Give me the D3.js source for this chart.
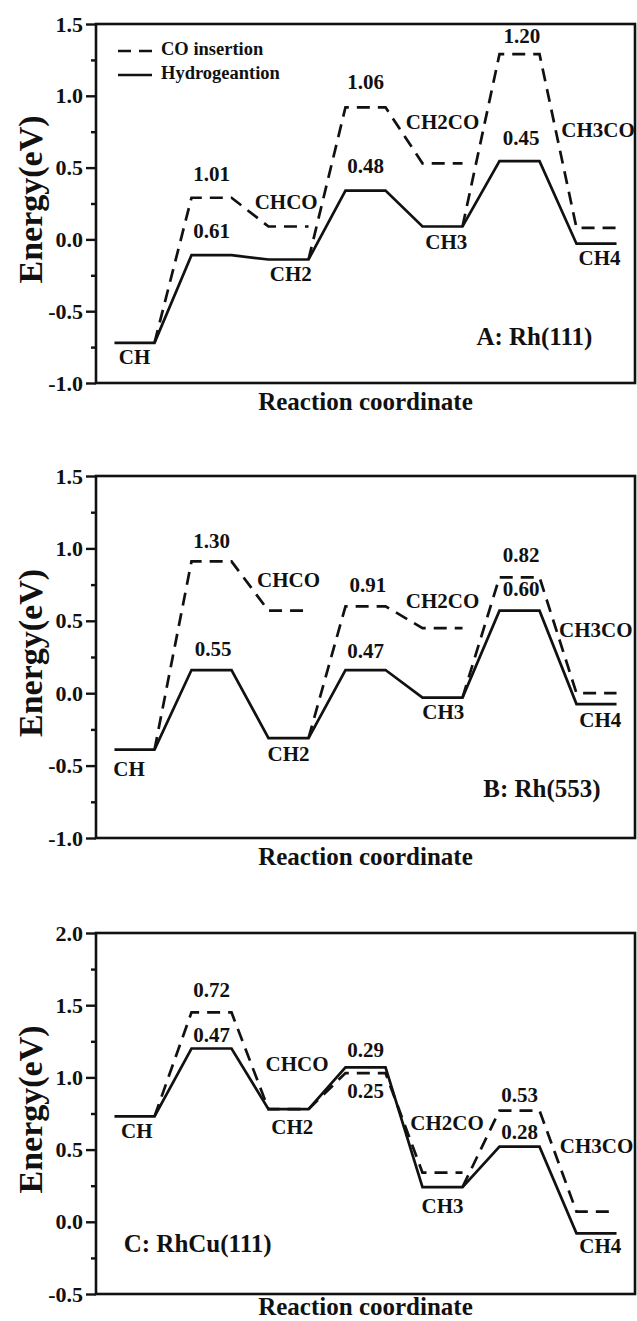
<!DOCTYPE html>
<html>
<head>
<meta charset="utf-8">
<script src="https://cdn.jsdelivr.net/npm/d3@7"></script>
<style>
  html, body { margin: 0; padding: 0; background: #fff; }
  svg { display: block; }
  text { font-family: "Liberation Serif", "Times New Roman", serif; font-weight: bold; fill: #111; }
</style>
</head>
<body>
<svg id="chart"></svg>
<script>
// states along the reaction coordinate (minima and transition states)
const states = ["CH", "TS1", "CH2", "TS2", "CH3", "TS3", "CH4"];

// A: Rh(111)
const hydroA = [-0.72, -0.11, -0.14, 0.34, 0.09, 0.545, -0.03];
const coTsA = [0.29, 0.92, 1.29];
const coFsA = [0.09, 0.53, 0.08];
const ticksA = [-1.0, -0.5, 0.0, 0.5, 1.0, 1.5];
// [text, state, energy of baseline]
const labelsA = [
    ["1.01", 1, 0.405], ["0.61", 1, 0.007], ["CHCO", 1.97, 0.215],
    ["1.06", 3, 1.049], ["0.48", 3, 0.462], ["CH2CO", 4, 0.771],
    ["1.20", 5.03, 1.366], ["0.45", 5.02, 0.66], ["CH3CO", 6.02, 0.713],
    ["CH", 0, -0.866], ["CH2", 2.03, -0.29], ["CH3", 4.05, -0.067], ["CH4", 6.04, -0.18]
];

// B: Rh(553)
const hydroB = [-0.39, 0.16, -0.31, 0.16, -0.03, 0.57, -0.075];
const coTsB = [0.91, 0.60, 0.80];
const coFsB = [0.57, 0.45, 0.0];
const ticksB = [-1.0, -0.5, 0.0, 0.5, 1.0, 1.5];
const labelsB = [
    ["1.30", 1, 1.0], ["0.55", 1.02, 0.254], ["CHCO", 2.0, 0.734],
    ["0.91", 3.03, 0.70], ["0.47", 3.0, 0.242], ["CH2CO", 4, 0.591],
    ["0.82", 5.02, 0.908], ["0.60", 5.02, 0.672], ["CH3CO", 5.99, 0.388],
    ["CH", -0.07, -0.57], ["CH2", 2.0, -0.467], ["CH3", 4.01, -0.178], ["CH4", 6.05, -0.231]
];

// C: RhCu(111)
const hydroC = [0.73, 1.20, 0.78, 1.07, 0.24, 0.52, -0.08];
const coTsC = [1.45, 1.03, 0.77];
const coFsC = [0.78, 0.34, 0.07];
const ticksC = [-0.5, 0.0, 0.5, 1.0, 1.5, 2.0];
const labelsC = [
    ["0.72", 1, 1.56], ["0.47", 1, 1.248], ["CHCO", 2.11, 1.046],
    ["0.29", 3, 1.144], ["0.25", 3, 0.856], ["CH2CO", 4.06, 0.634],
    ["0.53", 5, 0.833], ["0.28", 5, 0.576], ["CH3CO", 6.0, 0.479],
    ["CH", 0.03, 0.583], ["CH2", 2.05, 0.606], ["CH3", 4.0, 0.0625], ["CH4", 6.05, -0.215]
];

const panelNames = ["A: Rh(111)", "B: Rh(553)", "C: RhCu(111)"];
const legendNames = ["CO insertion", "Hydrogeantion"];

// panel name anchor [state, energy] (left aligned)
const nameAnchors = [[4.44, -0.734], [4.53, -0.72], [-0.14, -0.208]];

const panels = [
    { hydro: hydroA, coTs: coTsA, coFs: coFsA, ticks: ticksA, labels: labelsA, top: 24, bottom: 383 },
    { hydro: hydroB, coTs: coTsB, coFs: coFsB, ticks: ticksB, labels: labelsB, top: 476, bottom: 838 },
    { hydro: hydroC, coTs: coTsC, coFs: coFsC, ticks: ticksC, labels: labelsC, top: 933, bottom: 1294 }
];

const W = 637, H = 1321;
const left = 96, right = 635;
const hw = 0.26;          // half width of an energy level (in state units)
const ink = "#111";

const svg = d3.select("#chart").attr("width", W).attr("height", H);
svg.append("rect").attr("width", W).attr("height", H).attr("fill", "#fff");

const x = d3.scaleLinear().domain([-0.5, states.length - 0.5]).range([left, right]);

panels.forEach((p, pi) => {
    const y = d3.scaleLinear().domain(d3.extent(p.ticks)).range([p.bottom, p.top]);
    const g = svg.append("g");

    const line = d3.line().x(d => x(d[0])).y(d => y(d[1]));

    // hydrogenation path: flat levels joined by slopes
    const solidPts = [];
    p.hydro.forEach((v, i) => { solidPts.push([i - hw, v], [i + hw, v]); });
    g.append("path")
        .attr("d", line(solidPts))
        .attr("fill", "none")
        .attr("stroke", ink)
        .attr("stroke-width", 2.7)
        .attr("stroke-linejoin", "miter");

    // CO insertion branches, each starting from a CHx level
    p.coTs.forEach((ts, k) => {
        const s = 2 * k;
        const pts = [
            [s + hw, p.hydro[s]],
            [s + 1 - hw, ts], [s + 1 + hw, ts],
            [s + 2 - hw, p.coFs[k]], [s + 2 + hw, p.coFs[k]]
        ];
        g.append("path")
            .attr("d", line(pts))
            .attr("fill", "none")
            .attr("stroke", ink)
            .attr("stroke-width", 2.7)
            .attr("stroke-dasharray", "13,8");
    });

    // frame
    g.append("rect")
        .attr("x", left).attr("y", p.top)
        .attr("width", right - left).attr("height", p.bottom - p.top)
        .attr("fill", "none").attr("stroke", ink).attr("stroke-width", 2.6);

    // y axis: major + minor ticks
    const step = p.ticks[1] - p.ticks[0];
    const minors = p.ticks.slice(0, -1).map(t => t + step / 2);
    const major = g.append("g")
        .attr("transform", `translate(${left},0)`)
        .call(d3.axisLeft(y).tickValues(p.ticks).tickSize(10).tickPadding(3)
            .tickFormat(d => d.toFixed(1)));
    const minor = g.append("g")
        .attr("transform", `translate(${left},0)`)
        .call(d3.axisLeft(y).tickValues(minors).tickSize(5).tickFormat(""));
    [major, minor].forEach(a => {
        a.select(".domain").remove();
        a.selectAll("line").attr("stroke", ink).attr("stroke-width", 2.4);
    });
    major.selectAll("text")
        .attr("fill", ink)
        .style("font-family", '"Liberation Serif", serif')
        .style("font-weight", "bold")
        .style("font-size", "22px");

    // axis titles
    g.append("text")
        .attr("transform", `translate(42,${(p.top + p.bottom) / 2 - 4}) rotate(-90)`)
        .attr("text-anchor", "middle")
        .style("font-size", "34px")
        .text("Energy(eV)");
    g.append("text")
        .attr("x", (left + right) / 2)
        .attr("y", Math.min(p.bottom + 27, H - 6))
        .attr("text-anchor", "middle")
        .style("font-size", "25px")
        .text("Reaction coordinate");

    // level annotations
    g.selectAll(".lab")
        .data(p.labels)
        .join("text")
        .attr("class", "lab")
        .attr("x", d => x(d[1]))
        .attr("y", d => y(d[2]))
        .attr("text-anchor", "middle")
        .style("font-size", "21px")
        .text(d => d[0]);

    // panel name
    g.append("text")
        .attr("x", x(nameAnchors[pi][0]))
        .attr("y", y(nameAnchors[pi][1]))
        .style("font-size", "25px")
        .text(panelNames[pi]);

    // legend only in the first panel
    if (pi === 0) {
        const lg = g.append("g").attr("transform", `translate(${left + 22},${p.top + 31})`);
        legendNames.forEach((name, j) => {
            const row = lg.append("g").attr("transform", `translate(0,${j * 24})`);
            row.append("line")
                .attr("x1", 0).attr("x2", 34)
                .attr("y1", -4).attr("y2", -4)
                .attr("stroke", ink).attr("stroke-width", 2.6)
                .attr("stroke-dasharray", j === 0 ? "13,8" : null);
            row.append("text")
                .attr("x", 43)
                .attr("y", 0)
                .style("font-size", "18.5px")
                .text(name);
        });
    }
});
</script>
</body>
</html>
